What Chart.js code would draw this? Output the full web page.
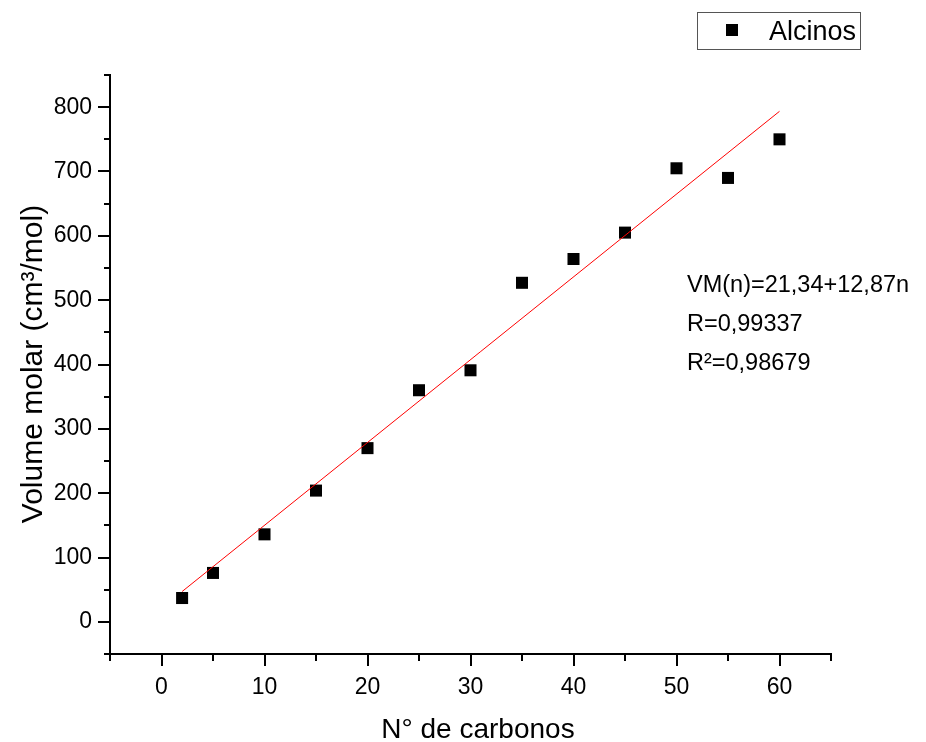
<!DOCTYPE html>
<html>
<head>
    <title>Volume molar - Alcinos</title>
    <script src="https://cdn.jsdelivr.net/npm/chart.js"></script>
    <style>
        * {
            margin: 0;
            padding: 0;
            box-sizing: border-box;
        }

        body {
            background: #ffffff;
            width: 926px;
            height: 742px;
            overflow: hidden;
        }

        .chart-container {
            width: 926px;
            height: 742px;
            position: relative;
        }
    </style>
</head>
<body>
    <div class="chart-container">
        <canvas id="volumeChart" width="926" height="742"></canvas>
    </div>

    <script>
        // Número de carbonos e volume molar medido
        const nCarbonos = [2, 5, 10, 15, 20, 25, 30, 35, 40, 45, 50, 55, 60];
        const volumeMolar = [37, 76, 136, 204, 270, 360, 391, 527, 564, 605, 705, 690, 750];

        // Rótulos dos eixos
        const xTicks = [0, 10, 20, 30, 40, 50, 60];
        const yTicks = [0, 100, 200, 300, 400, 500, 600, 700, 800];
        const xTitulo = 'N° de carbonos';
        const yTitulo = 'Volume molar (cm³/mol)';

        // Ajuste linear VM(n) = a + b*n
        const fitIntercept = 21.34;
        const fitSlope = 12.87;
        const fitR = 0.99337;
        const fitR2 = 0.98679;

        const fmt = (v, d) => v.toFixed(d).replace('.', ',');
        const fitLine = (n) => fitIntercept + fitSlope * n;

        const pontos = nCarbonos.map((n, i) => ({ x: n, y: volumeMolar[i] }));
        const nMin = nCarbonos[0];
        const nMax = nCarbonos[nCarbonos.length - 1];
        const reta = [
            { x: nMin, y: fitLine(nMin) },
            { x: nMax, y: fitLine(nMax) }
        ];

        const FONTE = "'Liberation Sans', Arial, sans-serif";
        Chart.defaults.font.family = FONTE;
        Chart.defaults.color = '#000';

        // Marcas dos eixos (principais e secundárias), para fora
        const tickMarks = {
            id: 'tickMarks',
            afterDraw(chart) {
                const { ctx, chartArea } = chart;
                const xs = chart.scales.x;
                const ys = chart.scales.y;
                ctx.save();
                ctx.strokeStyle = '#000';
                ctx.lineWidth = 2;
                ctx.beginPath();
                for (let v = xs.min; v <= xs.max + 0.001; v += 5) {
                    const px = Math.round(xs.getPixelForValue(v));
                    const len = v % 10 === 0 ? 12 : 7;
                    ctx.moveTo(px, chartArea.bottom);
                    ctx.lineTo(px, chartArea.bottom + len);
                }
                for (let v = ys.min; v <= ys.max + 0.001; v += 50) {
                    const py = Math.round(ys.getPixelForValue(v));
                    const len = v % 100 === 0 ? 12 : 6;
                    ctx.moveTo(chartArea.left, py);
                    ctx.lineTo(chartArea.left - len, py);
                }
                ctx.stroke();
                ctx.restore();
            }
        };

        // Títulos dos eixos, legenda em caixa e texto do ajuste
        const textos = {
            id: 'textos',
            afterDraw(chart) {
                const { ctx } = chart;
                ctx.save();
                ctx.fillStyle = '#000';

                ctx.font = `28px ${FONTE}`;
                ctx.textAlign = 'center';
                ctx.textBaseline = 'alphabetic';
                ctx.fillText(xTitulo, 478, 738);

                ctx.save();
                ctx.translate(42, 364);
                ctx.rotate(-Math.PI / 2);
                ctx.font = `30px ${FONTE}`;
                ctx.fillText(yTitulo, 0, 0);
                ctx.restore();

                ctx.textAlign = 'left';
                ctx.strokeStyle = '#555';
                ctx.lineWidth = 1;
                ctx.strokeRect(697.5, 12.5, 163, 37);
                ctx.fillRect(726, 24, 12, 12);
                ctx.font = `27px ${FONTE}`;
                ctx.fillText(chart.data.datasets[1].label, 769, 40);

                ctx.font = `23.5px ${FONTE}`;
                ctx.fillText(`VM(n)=${fmt(fitIntercept, 2)}+${fmt(fitSlope, 2)}n`, 687, 292);
                ctx.fillText(`R=${fmt(fitR, 5)}`, 687, 331);
                ctx.fillText(`R²=${fmt(fitR2, 5)}`, 687, 370);
                ctx.restore();
            }
        };

        const config = {
            type: 'scatter',
            data: {
                datasets: [
                    {
                        label: 'Ajuste linear',
                        type: 'line',
                        data: reta,
                        borderColor: '#ff0000',
                        borderWidth: 1,
                        pointRadius: 0,
                        fill: false,
                        showLine: true
                    },
                    {
                        label: 'Alcinos',
                        data: pontos,
                        pointStyle: 'rect',
                        pointRadius: 8.5,
                        backgroundColor: '#000',
                        borderColor: '#000',
                        borderWidth: 0
                    }
                ]
            },
            options: {
                responsive: false,
                animation: false,
                layout: {
                    padding: { left: 0, top: 75, right: 95, bottom: 0 }
                },
                plugins: {
                    legend: { display: false },
                    tooltip: { enabled: false }
                },
                scales: {
                    x: {
                        type: 'linear',
                        min: -5,
                        max: 65,
                        afterFit: (s) => { s.height = 88; },
                        grid: { drawOnChartArea: false, drawTicks: false },
                        border: { color: '#000', width: 2 },
                        ticks: {
                            stepSize: 5,
                            autoSkip: false,
                            maxRotation: 0,
                            padding: 20,
                            font: { size: 23 },
                            callback: (v) => xTicks.includes(v) ? String(v) : ''
                        }
                    },
                    y: {
                        type: 'linear',
                        min: -50,
                        max: 850,
                        afterFit: (s) => { s.width = 110; },
                        grid: { drawOnChartArea: false, drawTicks: false },
                        border: { color: '#000', width: 2 },
                        ticks: {
                            stepSize: 50,
                            autoSkip: false,
                            padding: 18,
                            font: { size: 23 },
                            callback: (v) => yTicks.includes(v) ? String(v) : ''
                        }
                    }
                }
            },
            plugins: [tickMarks, textos]
        };

        const ctx = document.getElementById('volumeChart').getContext('2d');
        const chart = new Chart(ctx, config);
    </script>
</body>
</html>
